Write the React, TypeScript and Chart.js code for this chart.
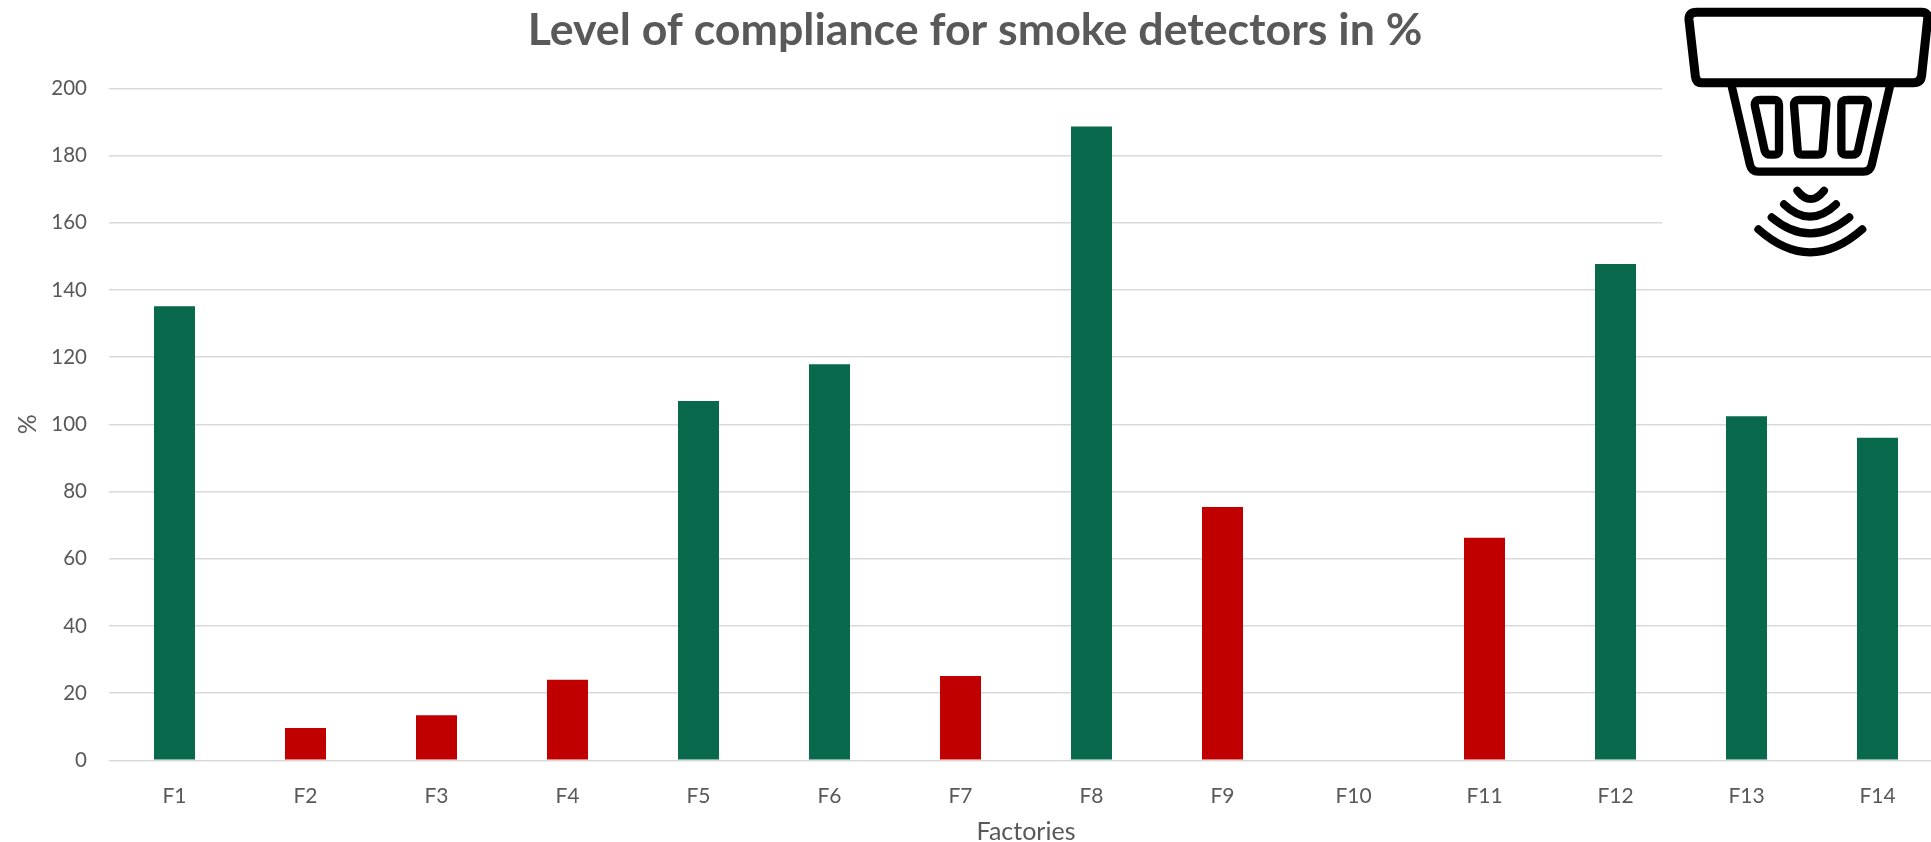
import React, { useEffect, useRef } from "react";
import { Chart, registerables } from "chart.js";

Chart.register(...registerables);

const factories = ["F1", "F2", "F3", "F4", "F5", "F6", "F7", "F8", "F9", "F10", "F11", "F12", "F13", "F14"];
const compliance = [135.1, 9.6, 13.4, 24, 106.9, 117.9, 25.1, 188.6, 75.4, 0, 66.2, 147.7, 102.4, 96];
const GREEN = "#09694D";
const RED = "#C00000";
const barColors = [GREEN, RED, RED, RED, GREEN, GREEN, RED, GREEN, RED, RED, RED, GREEN, GREEN, GREEN];

const TEXT = "#595959";
const FONT = "Lato";

export default function App() {
  const ref = useRef<HTMLCanvasElement | null>(null);
  useEffect(() => {
    if (!ref.current) return;
    const chart = new Chart(ref.current, {
      type: "bar",
      data: {
        labels: factories,
        datasets: [
          {
            data: compliance,
            backgroundColor: barColors,
            categoryPercentage: 1,
            barPercentage: 0.313,
          },
        ],
      },
      options: {
        responsive: false,
        animation: false,
        layout: { padding: 0 },
        plugins: {
          legend: { display: false },
          tooltip: { enabled: false },
          title: {
            display: true,
            text: "Level of compliance for smoke detectors in %",
            color: TEXT,
            font: { family: FONT, size: 44.7, weight: "bold", lineHeight: 1 },
            padding: { top: 8, bottom: 35.6 },
          },
        },
        scales: {
          x: {
            grid: { display: false },
            border: { display: false },
            ticks: { color: TEXT, font: { family: FONT, size: 21 }, padding: 15, maxRotation: 0, autoSkip: false },
            title: {
              display: true,
              text: "Factories",
              color: TEXT,
              font: { family: FONT, size: 25 },
              padding: { top: 0, bottom: -5 },
            },
            afterFit: (s: any) => {
              s.height = 81.7;
            },
          },
          y: {
            min: 0,
            max: 200,
            grid: { color: "#D9D9D9", lineWidth: 1.5, drawTicks: false },
            border: { display: false },
            ticks: { stepSize: 20, color: TEXT, font: { family: FONT, size: 20.5 }, padding: 22 },
            title: {
              display: true,
              text: "%",
              color: TEXT,
              font: { family: FONT, size: 25 },
              padding: { top: 6, bottom: 0 },
            },
            afterFit: (s: any) => {
              s.width = 102;
            },
          },
        },
      },
    } as any);
    return () => chart.destroy();
  }, []);

  return (
    <div style={{ position: "fixed", left: 0, top: 0, width: 1931, height: 842, overflow: "hidden", background: "#fff" }}>
      <canvas ref={ref} width={1936} height={842} style={{ position: "absolute", left: 7, top: 0, display: "block" }} />
      <svg width={269} height={262} viewBox="6 0 807 786" style={{ position: "absolute", left: 1662, top: 0, background: "#fff" }}>
        <g fill="none" stroke="#000" strokeLinejoin="round" strokeLinecap="round">
          <path strokeWidth={27} d="M110 37 H785 Q805 37 803 57 L785 225 Q783 248 760 248 H125 Q108 248 106 228 L87 60 Q85 37 110 37 Z" />
          <path strokeWidth={25} d="M215 258 L270 495 Q275 515 295 515 H610 Q630 515 635 495 L690 258" />
          <path strokeWidth={25} d="M300 300 H342 Q357 300 357 315 V450 Q357 464 343 464 H330 Q318 464 314 452 L285 320 Q281 300 300 300 Z" />
          <path strokeWidth={25} d="M417 300 H485 Q501 300 499 316 L488 450 Q487 464 473 464 H427 Q414 464 413 450 L402 316 Q401 300 417 300 Z" />
          <path strokeWidth={25} d="M563 300 H608 Q627 300 623 320 L594 452 Q590 464 578 464 H558 Q544 464 544 450 V315 Q544 300 563 300 Z" />
          <path strokeWidth={24} d="M412 572 Q452 622 492 572" />
          <path strokeWidth={24} d="M372 613 Q450 687 528 613" />
          <path strokeWidth={24} d="M335 652 Q450 748 568 652" />
          <path strokeWidth={24} d="M295 688 Q450 826 607 688" />
        </g>
      </svg>
    </div>
  );
}
